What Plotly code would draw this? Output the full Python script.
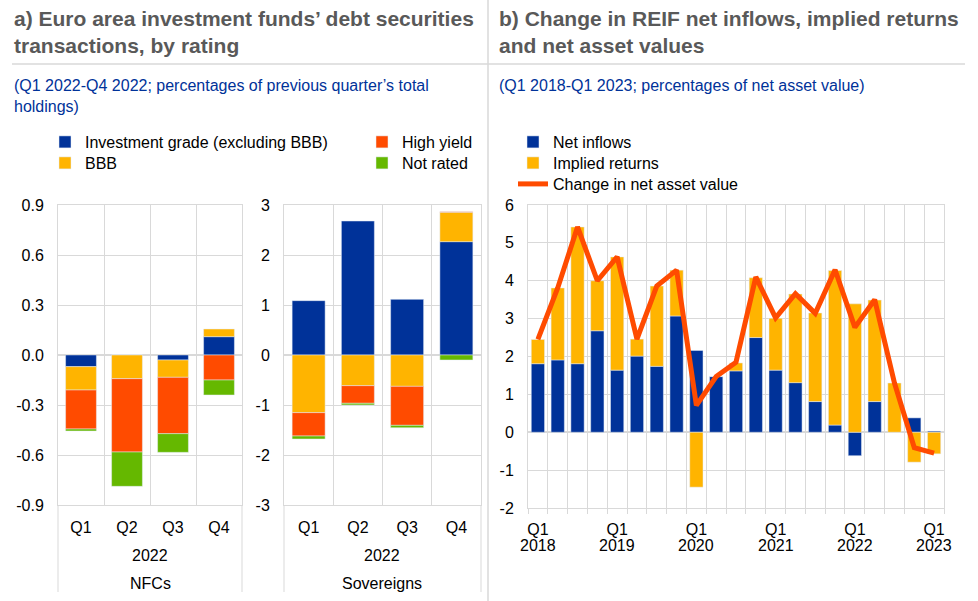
import plotly.graph_objects as go

# ---- data -------------------------------------------------------------
quarters_22 = ["Q1", "Q2", "Q3", "Q4"]

# panel a) NFCs, % of previous quarter's total holdings
nfc_ig = [-0.07, 0.0, -0.03, 0.11]
nfc_bbb = [-0.14, -0.142, -0.104, 0.046]
nfc_hy = [-0.234, -0.44, -0.338, -0.15]
nfc_nr = [-0.012, -0.206, -0.112, -0.09]

# panel a) sovereigns
sov_ig = [1.087, 2.68, 1.113, 2.267]
sov_bbb = [-1.153, -0.613, -0.627, 0.587]
sov_hy = [-0.467, -0.353, -0.78, 0.013]
sov_nr = [-0.06, -0.033, -0.047, -0.1]

# panel b) REIF, Q1 2018 - Q1 2023, % of net asset value
reif_quarters = [f"Q{q} {y}" for y in range(2018, 2023) for q in range(1, 5)] + ["Q1 2023"]
net_inflows = [1.81, 1.91, 1.81, 2.68, 1.64, 2.01, 1.74, 3.07, 2.16, 1.47, 1.62,
               2.50, 1.64, 1.31, 0.81, 0.19, -0.62, 0.81, 0.0, 0.38, 0.03]
implied_returns = [0.64, 1.90, 3.61, 1.32, 2.99, 0.45, 2.12, 1.21, -1.45, 0.0, 0.21,
                   1.58, 1.37, 2.34, 2.34, 4.08, 3.39, 2.68, 1.30, -0.79, -0.57]
nav_change = [2.45, 3.81, 5.42, 4.00, 4.63, 2.46, 3.86, 4.28, 0.71, 1.47, 1.85,
              4.10, 3.02, 3.66, 3.14, 4.29, 2.77, 3.50, 1.30, -0.41, -0.55]
reif_ticktext = ["Q1" if q.startswith("Q1") else "" for q in reif_quarters]
reif_years = [q for q in reif_quarters if q.startswith("Q1")]

# y tick labels (hyphen minus, as in the original)
nfc_yticks = [-0.9, -0.6, -0.3, 0.0, 0.3, 0.6, 0.9]
nfc_ytext = ["-0.9", "-0.6", "-0.3", "0.0", "0.3", "0.6", "0.9"]
sov_yticks = [-3, -2, -1, 0, 1, 2, 3]
sov_ytext = ["-3", "-2", "-1", "0", "1", "2", "3"]
reif_yticks = [-2, -1, 0, 1, 2, 3, 4, 5, 6]
reif_ytext = ["-2", "-1", "0", "1", "2", "3", "4", "5", "6"]

# ---- style ------------------------------------------------------------
W, H = 978, 601
BLUE, YELLOW, RED, GREEN = "#003299", "#FFB400", "#FF4B00", "#65B800"
GRID = "#d9d9d9"
FONT = "Liberation Sans, Arial, sans-serif"
FS = 16


def px_x(x):
    return x / W


def px_y(y):
    return 1 - y / H


fig = go.Figure()

# panel a) bars
rating_series = [
    ("Investment grade (excluding BBB)", BLUE, nfc_ig, sov_ig, "legend"),
    ("BBB", YELLOW, nfc_bbb, sov_bbb, "legend2"),
    ("High yield", RED, nfc_hy, sov_hy, "legend3"),
    ("Not rated", GREEN, nfc_nr, sov_nr, "legend4"),
]
for name, color, nfc, sov, leg in rating_series:
    fig.add_trace(go.Bar(x=quarters_22, y=nfc, name=name, marker_color=color,
                         legendgroup=name, legend=leg, xaxis="x", yaxis="y"))
    fig.add_trace(go.Bar(x=quarters_22, y=sov, name=name, marker_color=color,
                         legendgroup=name, legend=leg, showlegend=False,
                         xaxis="x2", yaxis="y2"))

# panel b) bars + line
fig.add_trace(go.Bar(x=reif_quarters, y=net_inflows, name="Net inflows",
                     marker_color=BLUE, legend="legend5", xaxis="x3", yaxis="y3"))
fig.add_trace(go.Bar(x=reif_quarters, y=implied_returns, name="Implied returns",
                     marker_color=YELLOW, legend="legend6", xaxis="x3", yaxis="y3"))
fig.add_trace(go.Scatter(x=reif_quarters, y=nav_change, name="Change in net asset value",
                         mode="lines", line=dict(color=RED, width=5),
                         legend="legend7", xaxis="x3", yaxis="y3"))

# axes
cat_axis = dict(type="category", tickson="boundaries", showgrid=True, gridcolor=GRID,
                showline=True, mirror=True, linecolor=GRID, ticks="", tickangle=0,
                tickfont=dict(size=FS, color="#000"), fixedrange=True)
val_axis = dict(showgrid=True, gridcolor=GRID, zeroline=True, zerolinecolor=GRID,
                showline=True, mirror=True, linecolor=GRID, ticks="",
                ticklabelstandoff=10, tickfont=dict(size=FS, color="#000"))

ydom_a = [px_y(505), px_y(205)]
fig.update_layout(
    xaxis=dict(cat_axis, domain=[px_x(58), px_x(242)], anchor="y", range=[-0.5, 3.5],
               ticklabelstandoff=8),
    yaxis=dict(val_axis, domain=ydom_a, anchor="x", range=[-0.9, 0.9],
               tickvals=nfc_yticks, ticktext=nfc_ytext),
    xaxis2=dict(cat_axis, domain=[px_x(284), px_x(481)], anchor="y2", range=[-0.5, 3.5],
                ticklabelstandoff=8),
    yaxis2=dict(val_axis, domain=ydom_a, anchor="x2", range=[-3, 3],
                tickvals=sov_yticks, ticktext=sov_ytext),
    xaxis3=dict(cat_axis, domain=[px_x(528), px_x(944)], anchor="y3",
                range=[-0.5, len(reif_quarters) - 0.5],
                tickvals=reif_quarters, ticktext=reif_ticktext,
                ticks="outside", ticklen=5, tickcolor=GRID, ticklabelstandoff=7),
    yaxis3=dict(val_axis, domain=[px_y(508), px_y(205)], anchor="x3", range=[-2, 6],
                tickvals=reif_yticks, ticktext=reif_ytext),
)

# legends: one per row so the rows sit where the original has them
leg_style = dict(font=dict(size=FS, color="#000", family=FONT), bgcolor="rgba(0,0,0,0)",
                 xanchor="left", yanchor="top", tracegroupgap=0)
leg_pos = {"legend": (85, 143), "legend2": (85, 164), "legend3": (402, 143),
           "legend4": (402, 164), "legend5": (553, 143), "legend6": (553, 164),
           "legend7": (553, 185)}
fig.update_layout({k: dict(leg_style, x=px_x(tx - 40), y=px_y(ty - 18))
                   for k, (tx, ty) in leg_pos.items()})

# titles, subtitles and multi-level category labels
notes = [
    (12, 32, "<b>a) Euro area investment funds’ debt securities<br>transactions, by rating</b>", 21, "#595959"),
    (497, 32, "<b>b) Change in REIF net inflows, implied returns<br>and net asset values</b>", 21, "#595959"),
    (12, 96, "(Q1 2022-Q4 2022; percentages of previous quarter’s total<br>holdings)", 16, BLUE),
    (497, 86, "(Q1 2018-Q1 2023; percentages of net asset value)", 16, BLUE),
]
annotations = []
for x, y, text, size, color in notes:
    annotations.append(dict(x=px_x(x), y=px_y(y), xref="paper", yref="paper", text=text,
                            showarrow=False, xanchor="left", yanchor="middle", align="left",
                            font=dict(size=size, color=color, family=FONT)))
for xc, label in [(150, "NFCs"), (382, "Sovereigns")]:
    for yc, text in [(555, "2022"), (583, label)]:
        annotations.append(dict(x=px_x(xc), y=px_y(yc), xref="paper", yref="paper", text=text,
                                showarrow=False, xanchor="center", yanchor="middle",
                                font=dict(size=FS, color="#000", family=FONT)))
# year line under the Q1 ticks of panel b)
for q in reif_years:
    annotations.append(dict(x=q, xref="x3", y=px_y(545), yref="paper", text=q.split()[1],
                            showarrow=False, xanchor="center", yanchor="middle",
                            font=dict(size=FS, color="#000", family=FONT)))

shapes = [
    dict(type="line", xref="paper", yref="paper", x0=px_x(488), x1=px_x(488), y0=0, y1=1,
         line=dict(color=GRID, width=1.5)),
    dict(type="line", xref="paper", yref="paper", x0=px_x(12), x1=px_x(965),
         y0=px_y(64), y1=px_y(64), line=dict(color=GRID, width=1.5)),
]
for xp in [58, 242, 284, 481]:
    shapes.append(dict(type="line", xref="paper", yref="paper", x0=px_x(xp), x1=px_x(xp),
                       y0=px_y(592), y1=px_y(505), line=dict(color=GRID, width=1)))

fig.update_layout(
    width=W, height=H,
    margin=dict(l=0, r=0, t=0, b=0, autoexpand=False),
    paper_bgcolor="white", plot_bgcolor="white",
    font=dict(family=FONT, size=FS, color="#000"),
    barmode="relative", bargap=0.33,
    annotations=annotations, shapes=shapes,
)

# the page's default body margin would push the 978x601 figure off the window
fig.write_html("out.html", config={"displayModeBar": False},
               post_script="document.body.style.margin = '0';")
